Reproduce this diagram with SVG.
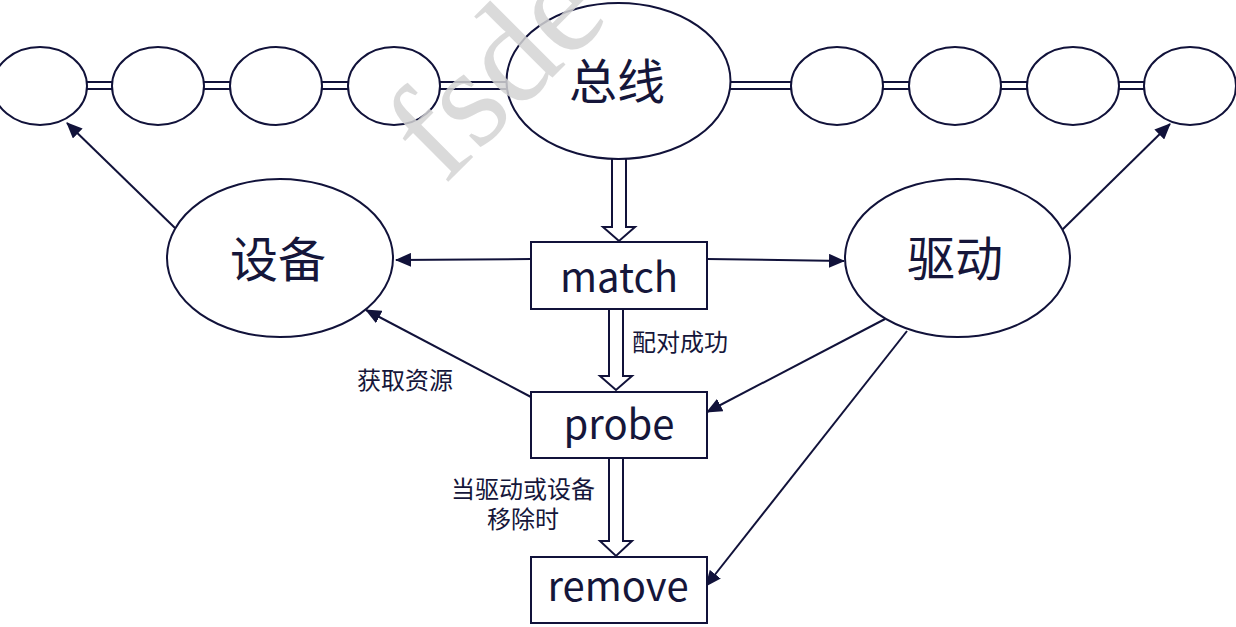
<svg xmlns="http://www.w3.org/2000/svg" width="1236" height="627" viewBox="0 0 1236 627">
  <style>
    .ln { stroke: #11123a; stroke-width: 2; fill: none; }
    .el { stroke: #11123a; stroke-width: 2; fill: #ffffff; }
    .box { stroke: #11123a; stroke-width: 2; fill: #ffffff; }
    .hollow { stroke: #11123a; stroke-width: 2; fill: #ffffff; stroke-linejoin: miter; }
    .big { font-family: "Noto Sans CJK SC", "Noto Sans", sans-serif; font-size: 48px; fill: #15163a; text-anchor: middle; }
    .lat { font-family: "Noto Sans CJK SC", "Noto Sans", sans-serif; font-size: 40px; fill: #15163a; text-anchor: middle; }
    .sm { font-family: "Noto Sans CJK SC", "Noto Sans", sans-serif; font-size: 24px; fill: #15163a; }
    .wm { font-family: "Liberation Serif", "DejaVu Serif", serif; font-size: 142px; fill: #d4d4d4; fill-opacity: 0.85; }
  </style>
  <defs>
    <marker id="ah" markerUnits="userSpaceOnUse" markerWidth="16" markerHeight="14" refX="15" refY="7" orient="auto">
      <path d="M0,0 L16,7 L0,14 Z" fill="#11123a"/>
    </marker>
  </defs>
  <rect width="1236" height="627" fill="#ffffff"/>

  <!-- connectors -->
  <g id="connectors">
    <!-- bus double lines -->
    <g class="ln" stroke-width="1.8">
      <line x1="86" y1="82" x2="113" y2="82"/><line x1="86" y1="89" x2="113" y2="89"/>
      <line x1="204" y1="82" x2="230" y2="82"/><line x1="204" y1="89" x2="230" y2="89"/>
      <line x1="322" y1="82" x2="348" y2="82"/><line x1="322" y1="89" x2="348" y2="89"/>
      <line x1="440" y1="82" x2="507" y2="82"/><line x1="440" y1="89" x2="507" y2="89"/>
      <line x1="730" y1="82" x2="792" y2="82"/><line x1="730" y1="89" x2="792" y2="89"/>
      <line x1="883" y1="82" x2="910" y2="82"/><line x1="883" y1="89" x2="910" y2="89"/>
      <line x1="1001" y1="82" x2="1028" y2="82"/><line x1="1001" y1="89" x2="1028" y2="89"/>
      <line x1="1119" y1="82" x2="1145" y2="82"/><line x1="1119" y1="89" x2="1145" y2="89"/>
    </g>
    <!-- hollow arrows -->
    <polygon class="hollow" points="612,158 626,158 626,227 635,227 619,241 603,227 612,227"/>
    <polygon class="hollow" points="609,309 623,309 623,376 632,376 616,390 600,376 609,376"/>
    <polygon class="hollow" points="609,458 623,458 623,541 632,541 616,556 600,541 609,541"/>
    <!-- solid arrows -->
    <line class="ln" x1="175" y1="228" x2="67" y2="123" marker-end="url(#ah)"/>
    <line class="ln" x1="1062" y1="230" x2="1170" y2="124" marker-end="url(#ah)"/>
    <line class="ln" x1="531" y1="259" x2="396" y2="260" marker-end="url(#ah)"/>
    <line class="ln" x1="707" y1="259" x2="844" y2="261" marker-end="url(#ah)"/>
    <line class="ln" x1="531" y1="397" x2="366" y2="310" marker-end="url(#ah)"/>
    <line class="ln" x1="885" y1="319" x2="707" y2="412" marker-end="url(#ah)"/>
    <line class="ln" x1="907" y1="331" x2="706" y2="586" marker-end="url(#ah)"/>
    <!-- labels -->
    <text class="sm" x="632" y="351">配对成功</text>
    <text class="sm" x="357" y="389">获取资源</text>
    <text class="sm" x="523" y="498" text-anchor="middle">当驱动或设备</text>
    <text class="sm" x="523" y="528" text-anchor="middle">移除时</text>
  </g>

  <!-- chain nodes -->
  <g id="chain-l1"><ellipse class="el" cx="40" cy="86" rx="47" ry="39"/></g>
  <g id="chain-l2"><ellipse class="el" cx="158" cy="86" rx="46" ry="39"/></g>
  <g id="chain-l3"><ellipse class="el" cx="276" cy="86" rx="46" ry="39"/></g>
  <g id="chain-l4"><ellipse class="el" cx="394" cy="86" rx="46" ry="39"/></g>
  <g id="chain-r1"><ellipse class="el" cx="837" cy="86" rx="46" ry="39"/></g>
  <g id="chain-r2"><ellipse class="el" cx="955" cy="86" rx="46" ry="39"/></g>
  <g id="chain-r3"><ellipse class="el" cx="1073" cy="86" rx="46" ry="39"/></g>
  <g id="chain-r4"><ellipse class="el" cx="1190" cy="86" rx="46" ry="39"/></g>

  <g id="bus">
    <ellipse class="el" cx="618.5" cy="81" rx="112" ry="78"/>
    <text class="big" x="617" y="99">总线</text>
  </g>
  <g id="device">
    <ellipse class="el" cx="280" cy="258" rx="113" ry="79"/>
    <text class="big" x="278" y="277">设备</text>
  </g>
  <g id="driver">
    <ellipse class="el" cx="957.5" cy="258" rx="112.5" ry="79"/>
    <text class="big" x="955" y="276">驱动</text>
  </g>
  <g id="match">
    <rect class="box" x="531" y="242" width="176" height="67"/>
    <text class="lat" x="619" y="292">match</text>
  </g>
  <g id="probe">
    <rect class="box" x="531" y="392" width="176" height="66"/>
    <text class="lat" x="619" y="439">probe</text>
  </g>
  <g id="remove">
    <rect class="box" x="531" y="557" width="176" height="66"/>
    <text class="lat" x="618" y="601">remove</text>
  </g>

  <!-- watermark -->
  <text class="wm" x="444" y="186" transform="rotate(-45 444 186)">fsde</text>
</svg>
